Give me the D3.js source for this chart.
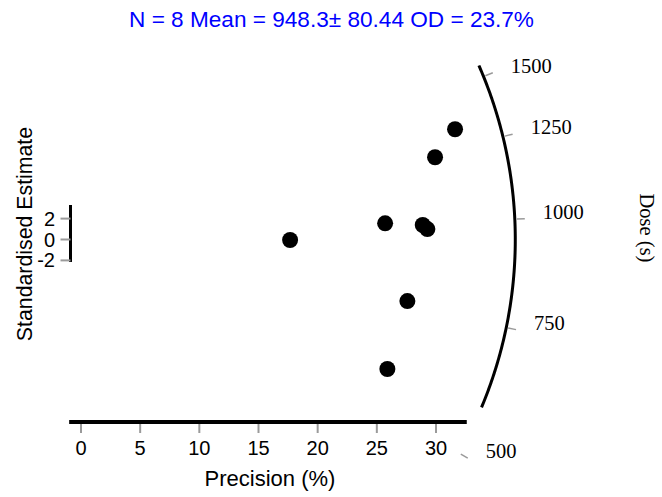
<!DOCTYPE html>
<html><head><meta charset="utf-8">
<script src="https://cdn.jsdelivr.net/npm/d3@7"></script>
<style>body{margin:0;background:#fff}svg{display:block}</style>
</head><body>
<svg id="c" width="662" height="497"></svg>
<script>
// ---- data ----
const precision   = [31.61, 29.92, 25.70, 28.88, 29.27, 17.67, 27.58, 25.89];
const stdEstimate = [10.55, 7.87, 1.55, 1.39, 1.00, -0.05, -5.89, -12.39];
const xTicks = [0, 5, 10, 15, 20, 25, 30];
const yTicks = [-2, 0, 2];
const doseTicks = [500, 750, 1000, 1250, 1500];
const centralDose = 948.3;
const doseArcLimits = [590, 1556];
const xAxisExtent = [-1, 32.6];
const yAxisExtent = [-2.15, 3.3];
const arcRadius = 36.7; // in precision units
const titleText = "N = 8 Mean = 948.3\u00b1 80.44 OD = 23.7%";

// ---- drawing ----
const svg = d3.select("#c");
const x = d3.scaleLinear().domain([0, 30]).range([81, 436]);
const y = d3.scaleLinear().domain([-2, 2]).range([260.4, 218.6]);
const SANS = "'Liberation Sans', Arial, sans-serif";
const SERIF = "'Liberation Serif', 'Times New Roman', serif";
const GRAY = "#9a9a9a";

// title
svg.append("text").attr("x", 331.5).attr("y", 27).attr("text-anchor", "middle")
  .attr("font-family", SANS).attr("font-size", 22.6).attr("fill", "#0000ff").text(titleText);

// x axis
svg.append("line").attr("x1", x(xAxisExtent[0])).attr("x2", x(xAxisExtent[1]))
  .attr("y1", 422).attr("y2", 422).attr("stroke", "#000").attr("stroke-width", 4);
svg.selectAll(".xt").data(xTicks).enter().append("line")
  .attr("x1", d => x(d)).attr("x2", d => x(d)).attr("y1", 424).attr("y2", 433)
  .attr("stroke", GRAY).attr("stroke-width", 2);
svg.selectAll(".xl").data(xTicks).enter().append("text")
  .attr("x", d => x(d)).attr("y", 455).attr("text-anchor", "middle")
  .attr("font-family", SANS).attr("font-size", 20).text(d => d);
svg.append("text").attr("x", 270).attr("y", 486).attr("text-anchor", "middle")
  .attr("font-family", SANS).attr("font-size", 22).text("Precision (%)");

// y axis
const yAxisX = x(0) - 10.5;
svg.append("line").attr("x1", yAxisX).attr("x2", yAxisX)
  .attr("y1", y(yAxisExtent[1])).attr("y2", y(yAxisExtent[0]))
  .attr("stroke", "#000").attr("stroke-width", 3);
svg.selectAll(".yt").data(yTicks).enter().append("line")
  .attr("x1", yAxisX - 10).attr("x2", yAxisX).attr("y1", d => y(d)).attr("y2", d => y(d))
  .attr("stroke", GRAY).attr("stroke-width", 2);
svg.selectAll(".yl").data(yTicks).enter().append("text")
  .attr("x", 55).attr("y", d => y(d) + 7).attr("text-anchor", "end")
  .attr("font-family", SANS).attr("font-size", 20).text(d => d);
svg.append("text").attr("transform", "translate(32,234) rotate(-90)")
  .attr("text-anchor", "middle").attr("font-family", SANS).attr("font-size", 21.3)
  .text("Standardised Estimate");

// radial dose axis
const z0 = Math.log(centralDose);
const R = x(arcRadius) - x(0);
function arcPoint(dose, r) {
  const dz = Math.log(dose) - z0;
  const dx = x(1) - x(0), dy = y(dz) - y(0);
  const n = Math.hypot(dx, dy);
  return [x(0) + r * dx / n, y(0) + r * dy / n];
}
const arcDoses = d3.range(0, 201).map(i =>
  Math.exp(Math.log(doseArcLimits[0]) + i / 200 * (Math.log(doseArcLimits[1]) - Math.log(doseArcLimits[0]))));
svg.append("path").datum(arcDoses)
  .attr("d", d3.line().x(d => arcPoint(d, R)[0]).y(d => arcPoint(d, R)[1]))
  .attr("fill", "none").attr("stroke", "#000").attr("stroke-width", 3);
svg.selectAll(".zt").data(doseTicks).enter().append("line")
  .attr("x1", d => arcPoint(d, R + 2)[0]).attr("y1", d => arcPoint(d, R + 2)[1])
  .attr("x2", d => arcPoint(d, R + 10)[0]).attr("y2", d => arcPoint(d, R + 10)[1])
  .attr("stroke", GRAY).attr("stroke-width", 1.5);
svg.selectAll(".zl").data(doseTicks).enter().append("text")
  .attr("x", d => arcPoint(d, R + 10)[0] + 18).attr("y", d => arcPoint(d, R + 10)[1] - 7 + 7)
  .attr("font-family", SERIF).attr("font-size", 20.5).text(d => d);
svg.append("text").attr("transform", "translate(640,228) rotate(90)")
  .attr("text-anchor", "middle").attr("font-family", SERIF).attr("font-size", 20.5)
  .text("Dose (s)");

// points
svg.selectAll(".pt").data(precision.map((p, i) => [p, stdEstimate[i]])).enter()
  .append("circle").attr("cx", d => x(d[0])).attr("cy", d => y(d[1])).attr("r", 8)
  .attr("fill", "#000");
</script>
</body></html>
